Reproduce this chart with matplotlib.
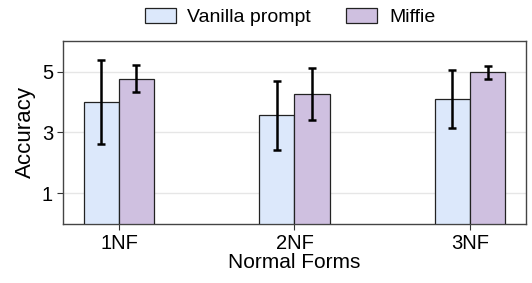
import numpy as np
import matplotlib.pyplot as plt

plt.rcParams['font.family'] = ['Liberation Sans', 'DejaVu Sans']

# Data
forms = ['1NF', '2NF', '3NF']
vanilla = [4.0, 3.56, 4.1]
vanilla_err = [1.39, 1.12, 0.96]
miffie = [4.76, 4.27, 4.97]
miffie_err = [0.44, 0.85, 0.22]

x = np.arange(len(forms))
w = 0.2

fig = plt.figure(figsize=(5.32, 2.83), dpi=100)
ax = fig.add_axes([0.118, 0.209, 0.871, 0.646])

err_kw = dict(ecolor='black', elinewidth=1.8, capsize=2.8, capthick=1.8)
ax.bar(x - w / 2, vanilla, w, yerr=vanilla_err, color='#dce8fb',
       edgecolor='#222222', linewidth=0.9, label='Vanilla prompt', error_kw=err_kw, zorder=3)
ax.bar(x + w / 2, miffie, w, yerr=miffie_err, color='#cfc0e0',
       edgecolor='#222222', linewidth=0.9, label='Miffie', error_kw=err_kw, zorder=3)

ax.set_xlim(-0.32, 2.32)
ax.set_ylim(0, 6)
ax.set_yticks([1, 3, 5])
ax.set_xticks(x)
ax.set_xticklabels(forms)
ax.yaxis.grid(True, color='#e6e6e6', linewidth=1, zorder=0)
ax.tick_params(labelsize=14.5, length=4, color='#333333', pad=3)
for s in ax.spines.values():
    s.set_color('#444444')
    s.set_linewidth(1)

ax.set_xlabel('Normal Forms', fontsize=15, labelpad=0)
ax.set_ylabel('Accuracy', fontsize=16, labelpad=4)

fig.legend(loc='upper center', bbox_to_anchor=(0.545, 1.035), ncol=2, frameon=False,
           fontsize=14, handlelength=1.6, handleheight=0.85, handletextpad=0.6,
           columnspacing=1.8)

fig.savefig('out.png', dpi=100)
